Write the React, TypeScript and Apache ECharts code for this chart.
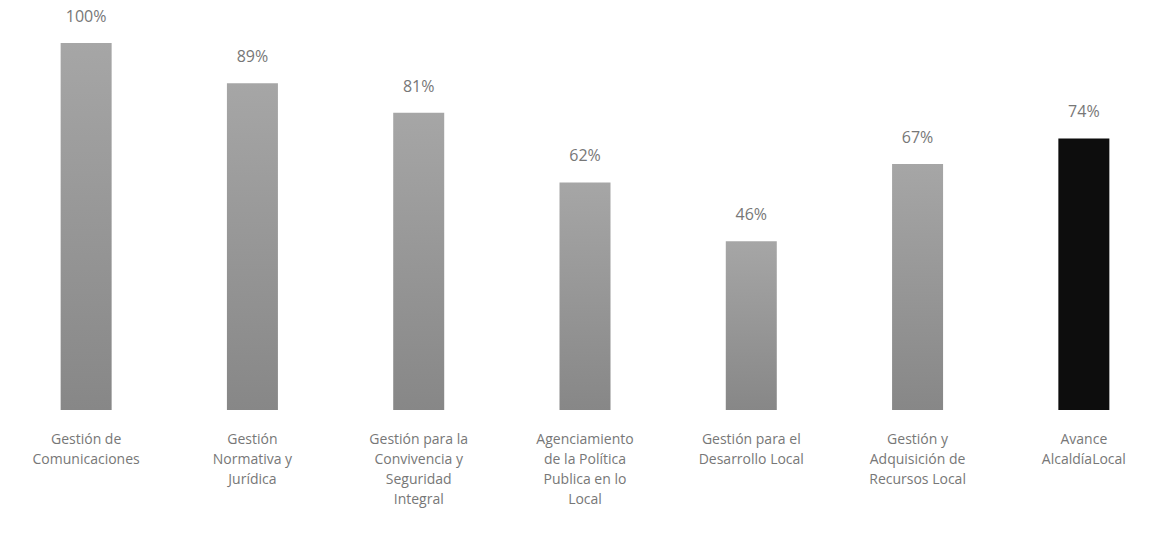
import React, { useEffect, useRef } from "react";
import * as echarts from "echarts";

const categories = [
  "Gestión de\nComunicaciones",
  "Gestión\nNormativa y\nJurídica",
  "Gestión para la\nConvivencia y\nSeguridad\nIntegral",
  "Agenciamiento\nde la Política\nPublica en lo\nLocal",
  "Gestión para el\nDesarrollo Local",
  "Gestión y\nAdquisición de\nRecursos Local",
  "Avance\nAlcaldíaLocal",
];
const values = [100, 89, 81, 62, 46, 67, 74];
const highlightIndex = 6;

export default function App() {
  const ref = useRef<HTMLDivElement>(null);
  useEffect(() => {
    if (!ref.current) return;
    const chart = echarts.init(ref.current, null, { renderer: "svg" });
    const grey = new echarts.graphic.LinearGradient(0, 0, 0, 1, [
      { offset: 0, color: "#a6a6a6" },
      { offset: 1, color: "#878787" },
    ]);
    chart.setOption({
      animation: false,
      backgroundColor: "#ffffff",
      grid: { left: 3, top: 43, width: 1164, height: 367 },
      xAxis: {
        type: "category",
        data: categories,
        axisLine: { show: false },
        axisTick: { show: false },
        axisLabel: {
          interval: 0,
          margin: 18,
          color: "#777777",
          fontSize: 14,
          lineHeight: 20,
          fontFamily: "Open Sans",
        },
      },
      yAxis: {
        type: "value",
        min: 0,
        max: 100,
        show: false,
        splitLine: { show: false },
      },
      series: [
        {
          type: "bar",
          barWidth: 51,
          data: values.map((v, i) => ({
            value: v,
            itemStyle: { color: i === highlightIndex ? "#0d0d0d" : grey },
          })),
          label: {
            show: true,
            position: "top",
            distance: 19,
            formatter: "{c}%",
            color: "#777777",
            fontSize: 16,
            fontFamily: "Open Sans",
          },
        },
      ],
    });
    return () => chart.dispose();
  }, []);
  return (
    <div
      style={{
        position: "absolute",
        left: 0,
        top: 0,
        width: 1151,
        height: 533,
        overflow: "hidden",
        background: "#fff",
      }}
    >
      <div ref={ref} style={{ width: 1180, height: 533 }} />
    </div>
  );
}
